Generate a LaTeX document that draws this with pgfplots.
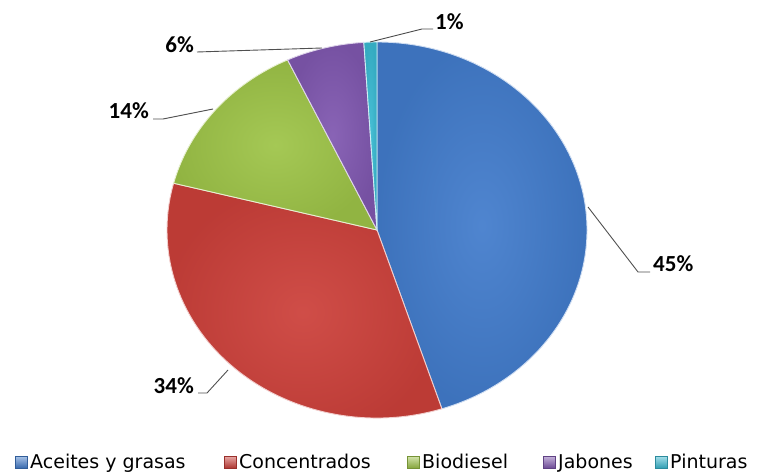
\documentclass[border=0pt]{standalone}
\usepackage{pgfplots}
\pgfplotsset{compat=1.18}
\usepackage{pgfplotstable}
\usepackage{fontspec}
\setmainfont{DejaVu Sans}
\newfontfamily\lblfamily{Carlito}

\definecolor{cA}{RGB}{66,124,204}
\definecolor{cB}{RGB}{204,64,58}
\definecolor{cC}{RGB}{158,196,72}
\definecolor{cD}{RGB}{128,88,176}
\definecolor{cE}{RGB}{58,186,210}
\definecolor{leader}{RGB}{80,80,80}

% porcentaje de uso por sector
\pgfplotstableread[col sep=comma]{
name,pct,col
Aceites y grasas,45,cA
Concentrados,34,cB
Biodiesel,14,cC
Jabones,6,cD
Pinturas,1,cE
}\piedata

\newcommand{\lbl}{\lblfamily\bfseries\fontsize{23}{26}\selectfont}
\newcommand{\leg}{\fontsize{19}{21}\selectfont}

\begin{document}
\begin{tikzpicture}
\begin{axis}[
    scale only axis,
    width=778pt, height=474pt,
    xmin=0, xmax=778, ymin=0, ymax=474,
    hide axis,
    clip=false,
]
% centre (377,244), radios 210 x 188
\def\angA{90}
\pgfplotsforeachungrouped \i in {0,...,4}{%
  \pgfplotstablegetelem{\i}{pct}\of\piedata \let\pct\pgfplotsretval
  \pgfplotstablegetelem{\i}{col}\of\piedata \let\col\pgfplotsretval
  \pgfmathsetmacro{\angB}{\angA-3.6*\pct}
  \pgfmathsetmacro{\sx}{377+210*cos(\angA)}
  \pgfmathsetmacro{\sy}{244+188*sin(\angA)}
  \edef\cmd{\noexpand\shade[inner color=\col!93!white, outer color=\col!92!black,
      draw=white!75!\col, line width=0.9pt]
    (axis cs:377,244) -- (axis cs:\sx,\sy)
    arc[start angle=\angA, end angle=\angB, x radius=210, y radius=188] -- cycle;}
  \cmd
  \global\let\angA\angB
}

% etiquetas
\draw[leader, line width=0.9pt] (axis cs:588,267) -- (axis cs:638,202) -- (axis cs:650,202);
\node[anchor=base west, inner sep=0, font=\lbl] at (axis cs:653,202) {45\%};
\draw[leader, line width=0.9pt] (axis cs:228,104) -- (axis cs:207,81) -- (axis cs:198,81);
\node[anchor=base east, inner sep=0, font=\lbl] at (axis cs:194,81) {34\%};
\draw[leader, line width=0.9pt] (axis cs:213,365) -- (axis cs:163,355) -- (axis cs:153,355);
\node[anchor=base east, inner sep=0, font=\lbl] at (axis cs:149,355) {14\%};
\draw[leader, line width=0.9pt] (axis cs:322,426) -- (axis cs:197,422);
\node[anchor=base east, inner sep=0, font=\lbl] at (axis cs:194,421) {6\%};
\draw[leader, line width=0.9pt] (axis cs:370,432) -- (axis cs:422,445) -- (axis cs:433,445);
\node[anchor=base west, inner sep=0, font=\lbl] at (axis cs:435,444) {1\%};

% leyenda
\foreach \x/\c/\t in {15/cA/Aceites y grasas, 224/cB/Concentrados, 407/cC/Biodiesel, 543/cD/Jabones, 655/cE/Pinturas}{
  \edef\cmd{\noexpand\shade[top color=\c!45!white, bottom color=\c!85!black, draw=\c!75!black, line width=0.3pt]
    (axis cs:\x,6) rectangle (axis cs:\x+12,18);}
  \cmd
  \edef\cmd{\noexpand\node[anchor=base west, inner sep=0, font=\noexpand\leg] at (axis cs:\x+15,6) {\t};}
  \cmd
}

\coordinate (bl) at (axis cs:0,0);
\coordinate (tr) at (axis cs:778,474);
\end{axis}
\pgfresetboundingbox
\useasboundingbox (bl) rectangle (tr);
\end{tikzpicture}
\end{document}
